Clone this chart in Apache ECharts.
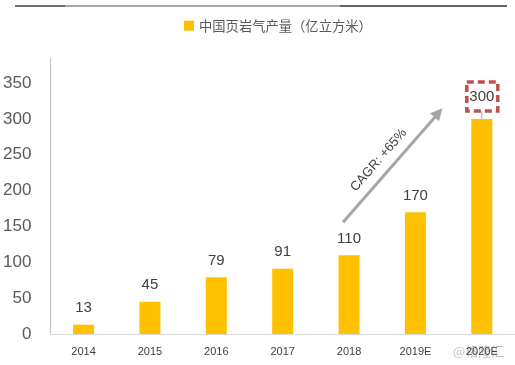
<!DOCTYPE html>
<html><head><meta charset="utf-8">
<script src="https://cdn.jsdelivr.net/npm/echarts@6/dist/echarts.min.js"></script>
<style>html,body{margin:0;padding:0;background:#fff}#c{width:515px;height:365px}</style>
</head><body><div id="c"></div>
<script>
var categories = ['2014','2015','2016','2017','2018','2019E','2020E'];
var values = [13, 45, 79, 91, 110, 170, 300];
var seriesName = '中国页岩气产量（亿立方米）';
var cagrText = 'CAGR: +65%';

var chart = echarts.init(document.getElementById('c'), null, {renderer:'canvas'});
var data = values.map(function(v, i){
  var item = {value: v};
  if (i === values.length - 1) item.label = {distance: 15};
  return item;
});
chart.setOption({
  animation: false,
  legend: {
    left: 179, top: 14, itemWidth: 10, itemHeight: 10, icon: 'rect',
    textStyle: {fontFamily: 'Noto Sans CJK SC', fontSize: 13.3, color: '#595959'},
    data: [seriesName]
  },
  grid: {left: 50, right: 0, top: 58, bottom: 31},
  xAxis: {
    type: 'category', data: categories,
    axisLine: {lineStyle: {color: '#d9d9d9', width: 1}},
    axisTick: {show: false},
    axisLabel: {fontFamily: 'Liberation Sans', fontSize: 11, color: '#404040', margin: 12}
  },
  yAxis: {
    type: 'value', min: 0, max: 385, interval: 50,
    axisLine: {show: true, lineStyle: {color: '#bfbfbf'}},
    axisTick: {show: false},
    splitLine: {show: false},
    axisLabel: {
      fontFamily: 'Liberation Sans', fontSize: 17, color: '#595959', margin: 19,
      formatter: function(v){ return v % 50 === 0 ? String(v) : ''; }
    }
  },
  series: [{
    name: seriesName, type: 'bar', data: data, barWidth: 21,
    itemStyle: {color: '#FFC000'},
    label: {show: true, position: 'top', distance: 9, fontFamily: 'Liberation Sans', fontSize: 15, color: '#404040'}
  }]
});

var last = values.length - 1;
var p = chart.convertToPixel({seriesIndex: 0}, [last, values[last]]);
var a0 = chart.convertToPixel({seriesIndex: 0}, [4, 156]);
var a1 = chart.convertToPixel({seriesIndex: 0}, [5, 315]);
a0[0] -= 6; a1[0] += 27;
chart.setOption({
  graphic: [
    {type:'line', shape:{x1:15,y1:6,x2:65,y2:6}, style:{stroke:'#404040', lineWidth:1.5}},
    {type:'line', shape:{x1:65,y1:6,x2:340,y2:6}, style:{stroke:'#8c8c8c', lineWidth:1.5}},
    {type:'line', shape:{x1:340,y1:6,x2:507,y2:6}, style:{stroke:'#303030', lineWidth:1.5}},
    {type:'rect', shape:{x:p[0]-15, y:p[1]-37, width:31, height:29},
      style:{fill:'none', stroke:'#C0504D', lineWidth:3.5, lineDash:[7,4]}},
    {type:'line', shape:{x1:p[0], y1:p[1]-8, x2:p[0], y2:p[1]}, style:{stroke:'#a6a6a6', lineWidth:1}},
    {type:'line', shape:{x1:a0[0], y1:a0[1], x2:a1[0]-5, y2:a1[1]+6}, style:{stroke:'#a6a6a6', lineWidth:3}},
    {type:'polygon', shape:{points:(function(){
      var dx=a1[0]-a0[0], dy=a1[1]-a0[1], L=Math.sqrt(dx*dx+dy*dy), ux=dx/L, uy=dy/L;
      var bx=a1[0]-ux*12, by=a1[1]-uy*12;
      return [[a1[0],a1[1]],[bx-uy*6,by+ux*6],[bx+uy*6,by-ux*6]];
    })()}, style:{fill:'#a6a6a6'}},
    {type:'text', x:(a0[0]+a1[0])/2 - 14, y:(a0[1]+a1[1])/2 - 5, rotation: Math.atan2(a0[1]-a1[1], a1[0]-a0[0]),
      style:{text: cagrText, fontFamily:'Liberation Sans', fontSize:13, fill:'#404040', align:'center', verticalAlign:'middle'}},
    {type:'text', x:453, y:345, style:{text:'@格隆汇', fontFamily:'Noto Sans CJK SC', fontSize:13, fill:'rgba(150,150,150,0.6)'}}
  ]
});
</script></body></html>
